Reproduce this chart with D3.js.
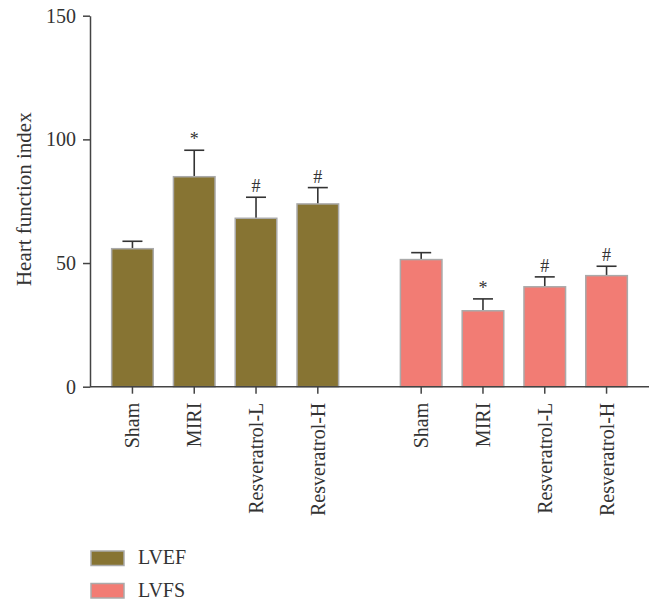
<!DOCTYPE html>
<html>
<head>
<meta charset="utf-8">
<script src="https://cdn.jsdelivr.net/npm/d3@7"></script>
<style>
  body { margin: 0; background: #fff; }
  text { font-family: "Liberation Serif", "Times New Roman", serif; fill: #333; }
</style>
</head>
<body>
<div id="chart"></div>
<script>
// data
const groups = ['Sham', 'MIRI', 'Resveratrol-L', 'Resveratrol-H'];
const series = ['LVEF', 'LVFS'];
const lvefMean = [55.8, 84.9, 68.1, 73.9];
const lvefErr  = [3.0, 10.7, 8.5, 6.6];
const lvfsMean = [51.4, 30.7, 40.4, 44.9];
const lvfsErr  = [2.8, 4.8, 4.0, 3.8];
const lvefMark = ['', '*', '#', '#'];
const lvfsMark = ['', '*', '#', '#'];
const yTicks = [0, 50, 100, 150];

const colors = { LVEF: '#877433', LVFS: '#f27c74' };

const width = 651, height = 601;
const svg = d3.select('#chart').append('svg')
    .attr('width', width)
    .attr('height', height);

const y = d3.scaleLinear().domain([0, 150]).range([386.7, 15.7]);

const x0 = d3.scaleBand().domain(series)
    .range([90, 649])
    .paddingInner(0.144)
    .paddingOuter(0.04);

const x1 = d3.scaleBand().domain(groups)
    .range([0, x0.bandwidth()])
    .paddingInner(0.327)
    .paddingOuter(0.1635);

const rows = [];
groups.forEach((g, i) => {
    rows.push({ s: 'LVEF', g, v: lvefMean[i], e: lvefErr[i], m: lvefMark[i] });
});
groups.forEach((g, i) => {
    rows.push({ s: 'LVFS', g, v: lvfsMean[i], e: lvfsErr[i], m: lvfsMark[i] });
});

// error bars (upper only), drawn under the bars
const eb = svg.append('g').selectAll('g')
    .data(rows).enter().append('g')
    .attr('transform', d => `translate(${x0(d.s) + x1(d.g) + x1.bandwidth() / 2},0)`);

eb.append('line')
    .attr('x1', 0).attr('x2', 0)
    .attr('y1', d => y(d.v))
    .attr('y2', d => y(d.v + d.e))
    .attr('stroke', '#333')
    .attr('stroke-width', 1.6);

eb.append('line')
    .attr('x1', -10).attr('x2', 10)
    .attr('y1', d => y(d.v + d.e))
    .attr('y2', d => y(d.v + d.e))
    .attr('stroke', '#333')
    .attr('stroke-width', 1.6);

eb.append('text')
    .attr('y', d => y(d.v + d.e) - 5)
    .attr('text-anchor', 'middle')
    .style('font-size', '18px')
    .text(d => d.m);

// bars
svg.append('g').selectAll('rect')
    .data(rows).enter().append('rect')
    .attr('x', d => x0(d.s) + x1(d.g))
    .attr('y', d => y(d.v))
    .attr('width', x1.bandwidth())
    .attr('height', d => y(0) - y(d.v))
    .attr('fill', d => colors[d.s])
    .attr('stroke', '#aaa')
    .attr('stroke-width', 1.5);

// y axis
const yAxis = svg.append('g')
    .attr('transform', 'translate(90,0)')
    .call(d3.axisLeft(y).tickValues(yTicks).tickSize(7).tickPadding(7).tickSizeOuter(0));
yAxis.select('.domain').attr('stroke', '#444').attr('stroke-width', 1.5);
yAxis.selectAll('.tick line').attr('stroke', '#444').attr('stroke-width', 1.5);
yAxis.selectAll('.tick text')
    .style('font-size', '20px')
    .style('font-family', '"Liberation Serif", serif')
    .attr('fill', '#333');

// x axis: one line, ticks per group
svg.append('line')
    .attr('x1', 90).attr('x2', 649)
    .attr('y1', y(0)).attr('y2', y(0))
    .attr('stroke', '#444')
    .attr('stroke-width', 1.5);

series.forEach(s => {
    const ax = svg.append('g')
        .attr('transform', `translate(${x0(s)},${y(0)})`)
        .call(d3.axisBottom(x1).tickSize(7).tickSizeOuter(0));
    ax.select('.domain').remove();
    ax.selectAll('.tick line').attr('stroke', '#444').attr('stroke-width', 1.5);
    ax.selectAll('.tick text')
        .attr('transform', 'rotate(-90)')
        .attr('x', -16)
        .attr('y', 0)
        .attr('dy', '0.35em')
        .attr('text-anchor', 'end')
        .style('font-size', '20px')
        .style('font-family', '"Liberation Serif", serif')
        .attr('fill', '#333');
});

// y axis title
svg.append('text')
    .attr('transform', `translate(31,${(y(0) + y(150)) / 2 - 2}) rotate(-90)`)
    .attr('text-anchor', 'middle')
    .style('font-size', '21px')
    .text('Heart function index');

// legend
const legend = svg.append('g').selectAll('g')
    .data(series).enter().append('g')
    .attr('transform', (d, i) => `translate(91,${551 + i * 32.5})`);

legend.append('rect')
    .attr('width', 33)
    .attr('height', 14.5)
    .attr('fill', d => colors[d])
    .attr('stroke', '#aaa')
    .attr('stroke-width', 1.5);

legend.append('text')
    .attr('x', 47)
    .attr('y', 13)
    .style('font-size', '20px')
    .text(d => d);
</script>
</body>
</html>
